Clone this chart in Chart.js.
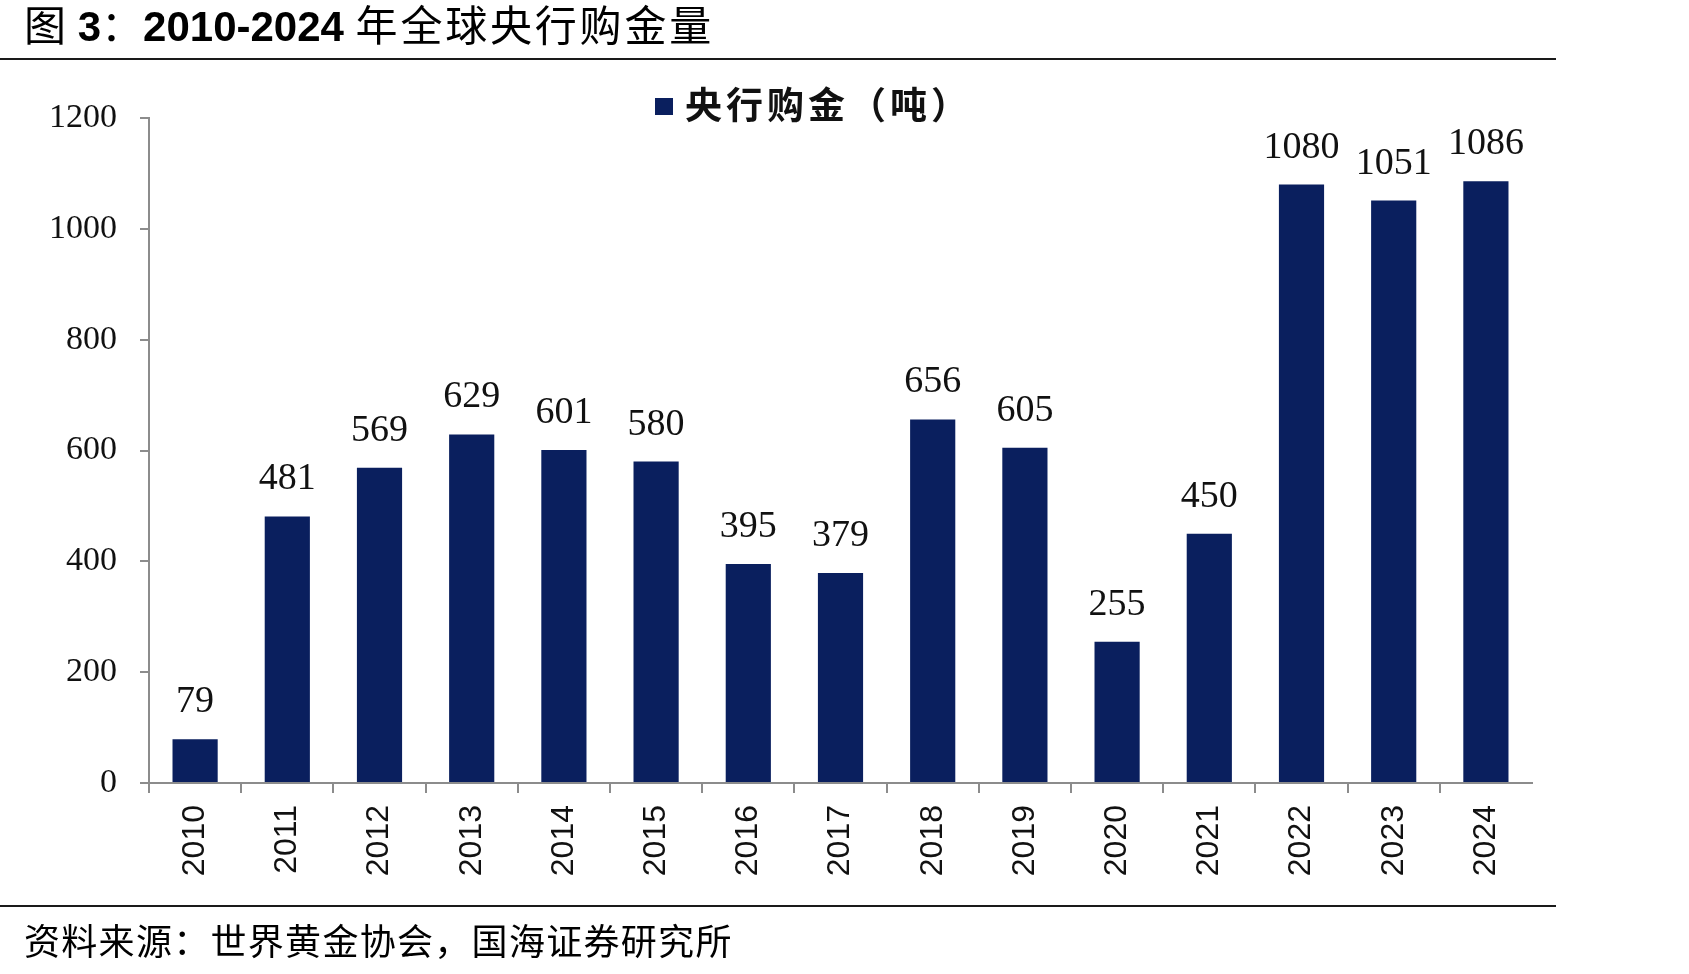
<!DOCTYPE html>
<html>
<head>
<meta charset="utf-8">
<script src="https://cdn.jsdelivr.net/npm/chart.js"></script>
<style>
  html, body { margin: 0; padding: 0; background: #fff; }
  #wrap { position: relative; width: 1689px; height: 974px; overflow: hidden; background: #fff; }
  #c { position: absolute; left: 0; top: 0; }
  .title { position: absolute; left: 24px; top: 2px; font-size: 42px; line-height: 42px; white-space: nowrap; color: #000; font-family: "Noto Sans CJK SC", sans-serif; }
  .title .lat { font-family: "Liberation Sans", Arial, sans-serif; font-weight: bold; }
  .title .cjk { letter-spacing: 2.8px; }
  .rule { position: absolute; left: 0; width: 1556px; height: 2px; background: #1a1a1a; }
  .legend { position: absolute; left: 655px; top: 85px; height: 38px; white-space: nowrap; }
  .legend .sw { position: absolute; left: 0; top: 13px; width: 18px; height: 17px; background: #0a1f5e; }
  .legend .txt { position: absolute; left: 30px; top: 0; font-family: "Noto Sans CJK SC", sans-serif; font-weight: bold; font-size: 37px; line-height: 37px; letter-spacing: 4px; color: #111; }
  .source { position: absolute; left: 24px; top: 921px; font-family: "Noto Sans CJK SC", sans-serif; font-size: 36px; line-height: 36px; letter-spacing: 1.3px; color: #000; white-space: nowrap; }
</style>
</head>
<body>
<div id="wrap">
  <canvas id="c" width="1689" height="974" style="width:1689px;height:974px;"></canvas>
  <div class="title">图<span class="lat"> 3</span>：<span class="lat">2010-2024 </span><span class="cjk">年全球央行购金量</span></div>
  <div class="rule" style="top:58px;"></div>
  <div class="legend"><div class="sw"></div><div class="txt">央行购金（吨）</div></div>
  <div class="rule" style="top:905px;"></div>
  <div class="source">资料来源：世界黄金协会，国海证券研究所</div>
</div>
<script>
const categories = ["2010","2011","2012","2013","2014","2015","2016","2017","2018","2019","2020","2021","2022","2023","2024"];
const goldPurchases = [79, 481, 569, 629, 601, 580, 395, 379, 656, 605, 255, 450, 1080, 1051, 1086];
const seriesName = "央行购金（吨）";
const yTicks = [0, 200, 400, 600, 800, 1000, 1200];

const barColor = '#0a1f5e';
const axisColor = '#8c8c8c';

const valueLabels = {
  id: 'valueLabels',
  afterDatasetsDraw(chart) {
    const ctx = chart.ctx;
    const meta = chart.getDatasetMeta(0);
    const data = chart.data.datasets[0].data;
    ctx.save();
    ctx.font = '38px "Liberation Serif", "Times New Roman", serif';
    ctx.fillStyle = '#111';
    ctx.textAlign = 'center';
    ctx.textBaseline = 'alphabetic';
    meta.data.forEach((bar, i) => {
      ctx.fillText(String(data[i]), bar.x, bar.y - 27);
    });
    ctx.restore();
  }
};

// the closing grid line at the right end of the axis is not drawn in the original
const xGridColor = (ctx) => (ctx.type !== 'tick' ? '#ffffff' : axisColor);
const xGridWidth = (ctx) => (ctx.type !== 'tick' ? 0 : 2);

new Chart(document.getElementById('c'), {
  type: 'bar',
  data: {
    labels: categories,
    datasets: [{
      label: seriesName,
      data: goldPurchases,
      backgroundColor: barColor,
      borderWidth: 0,
      categoryPercentage: 1.0,
      barPercentage: 0.49
    }]
  },
  options: {
    responsive: false,
    maintainAspectRatio: false,
    devicePixelRatio: 1,
    animation: false,
    layout: { padding: { top: 118, right: 157, bottom: 0, left: 0 } },
    plugins: {
      legend: { display: false },
      tooltip: { enabled: false },
      title: { display: false }
    },
    scales: {
      x: {
        afterFit(scale) { scale.height = 191; },
        grid: {
          offset: true,
          drawOnChartArea: false,
          drawTicks: true,
          tickLength: 10,
          lineWidth: xGridWidth,
          tickWidth: xGridWidth,
          color: xGridColor,
          tickColor: xGridColor
        },
        border: { display: true, color: axisColor, width: 2 },
        ticks: {
          minRotation: 90,
          maxRotation: 90,
          autoSkip: false,
          padding: 12,
          color: '#111',
          font: { family: '"Liberation Sans", Arial, sans-serif', size: 32 }
        }
      },
      y: {
        min: 0,
        max: 1200,
        afterFit(scale) { scale.width = 149; },
        afterBuildTicks(scale) { scale.ticks = yTicks.map(v => ({ value: v })); },
        grid: {
          drawOnChartArea: false,
          drawTicks: true,
          tickLength: 9,
          lineWidth: 2,
          tickWidth: 2,
          color: axisColor,
          tickColor: axisColor
        },
        border: { display: true, color: axisColor, width: 2 },
        ticks: {
          padding: 23,
          color: '#111',
          callback: (v) => String(v),
          font: { family: '"Liberation Serif", "Times New Roman", serif', size: 34 }
        }
      }
    }
  },
  plugins: [valueLabels]
});
</script>
</body>
</html>
